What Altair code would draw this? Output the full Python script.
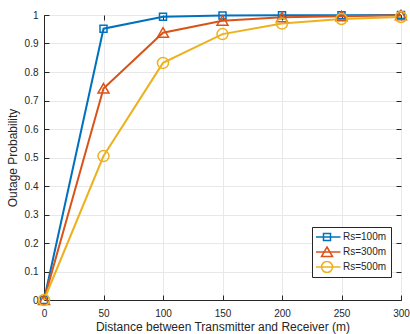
import altair as alt
import pandas as pd

distance = [0, 50, 100, 150, 200, 250, 300]
series_names = ["Rs=100m", "Rs=300m", "Rs=500m"]
rs100 = [0.0, 0.952, 0.994, 0.998, 0.999, 0.9995, 1.0]
rs300 = [0.0, 0.742, 0.938, 0.980, 0.992, 0.996, 0.999]
rs500 = [0.0, 0.505, 0.832, 0.933, 0.970, 0.986, 0.993]
colors = ["#0072BD", "#D95319", "#EDB120"]
x_ticks = [0, 50, 100, 150, 200, 250, 300]
y_ticks = [0, 0.1, 0.2, 0.3, 0.4, 0.5, 0.6, 0.7, 0.8, 0.9, 1.0]

# marker outlines (unit paths, scaled by the mark size)
marker_paths = [
    "M-0.7,-0.7H0.7V0.7H-0.7Z",
    "M0,-1L1.1,0.9L-1.1,0.9Z",
    "M1.1,0A1.1,1.1 0 1,1 -1.1,0A1.1,1.1 0 1,1 1.1,0Z",
]
legend_line_path = "M-2.7,0H2.7"

rows = []
for name, vals in zip(series_names, [rs100, rs300, rs500]):
    for d, v in zip(distance, vals):
        rows.append({"distance": d, "prob": v, "series": name, "series_line": name})
df = pd.DataFrame(rows)

FONT = "Liberation Sans"
AX = "#262626"
LX, LY = 268, 212

xscale = alt.Scale(domain=[0, 300], nice=False, zero=False)
yscale = alt.Scale(domain=[0, 1], nice=False)

common_legend = dict(title=None, orient="none", legendX=LX, legendY=LY, padding=4,
                     symbolSize=100, symbolOffset=5, labelOffset=10, rowPadding=3,
                     clipHeight=12, labelFontSize=10, labelFont=FONT, labelColor=AX,
                     symbolStrokeWidth=1.5)

base = alt.Chart(df)

lines = base.mark_line(strokeWidth=2).encode(
    x=alt.X("distance:Q", scale=xscale,
            axis=alt.Axis(orient="bottom", values=x_ticks, title="Distance between Transmitter and Receiver (m)",
                          ticks=False, tickSize=0, labelPadding=8, titlePadding=3, grid=True,
                          gridColor="#e8e8e8", domainColor=AX, labelColor=AX, titleColor=AX,
                          labelFontSize=10, titleFontSize=12, labelFont=FONT, titleFont=FONT,
                          titleFontWeight="normal", labelFlush=False)),
    y=alt.Y("prob:Q", scale=yscale,
            axis=alt.Axis(orient="left", values=y_ticks, format=".1~f", title="Outage Probability",
                          ticks=False, tickSize=0, labelPadding=6, titlePadding=5, grid=True,
                          gridColor="#e8e8e8", domainColor=AX, labelColor=AX, titleColor=AX,
                          labelFontSize=10, titleFontSize=12, labelFont=FONT, titleFont=FONT,
                          titleFontWeight="normal", labelFlush=False)),
    color=alt.Color("series_line:N", scale=alt.Scale(range=colors),
                    legend=alt.Legend(fillColor="white", strokeColor=AX, zindex=1,
                                      symbolType=legend_line_path, **common_legend)),
)

points = base.mark_point(filled=False, strokeWidth=1.5, opacity=1, size=100).encode(
    x=alt.X("distance:Q", scale=xscale,
            axis=alt.Axis(orient="bottom", values=x_ticks, labels=False, title=None, domain=False,
                          grid=False, ticks=True, tickSize=5, tickColor=AX, offset=-5)),
    y=alt.Y("prob:Q", scale=yscale,
            axis=alt.Axis(orient="left", values=y_ticks, labels=False, title=None, domain=False,
                          grid=False, ticks=True, tickSize=5, tickColor=AX, offset=-5)),
    color=alt.Color("series:N", scale=alt.Scale(domain=series_names, range=colors),
                    legend=alt.Legend(zindex=2, labelOpacity=0, **common_legend)),
    shape=alt.Shape("series:N", scale=alt.Scale(domain=series_names, range=marker_paths),
                    legend=alt.Legend(zindex=2, labelOpacity=0, **common_legend)),
)

frame_ticks = base.mark_point(opacity=0).encode(
    x=alt.X("distance:Q", scale=xscale,
            axis=alt.Axis(orient="top", values=x_ticks, labels=False, title=None, domain=False,
                          grid=False, ticks=True, tickSize=5, tickColor=AX, offset=-5)),
    y=alt.Y("prob:Q", scale=yscale,
            axis=alt.Axis(orient="right", values=y_ticks, labels=False, title=None, domain=False,
                          grid=False, ticks=True, tickSize=5, tickColor=AX, offset=-5)),
)

chart = alt.layer(lines, points, frame_ticks).resolve_axis(
    x="independent", y="independent"
).resolve_scale(
    color="independent", shape="independent"
).resolve_legend(
    color="independent", shape="independent"
).properties(
    width=357, height=285,
    autosize=alt.AutoSizeParams(type="none"),
    padding={"left": 44, "top": 15, "right": 9, "bottom": 34},
).configure_view(stroke=AX, strokeWidth=1).configure(background="white")

chart.save("out.html", embed_options={"renderer": "svg", "actions": False})
